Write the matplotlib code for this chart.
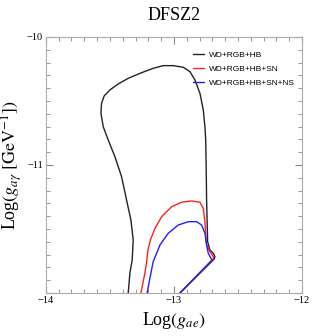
import matplotlib
matplotlib.use("Agg")
import matplotlib.pyplot as plt
from matplotlib.ticker import MultipleLocator, FixedLocator

plt.rcParams['font.family'] = ['Liberation Serif', 'DejaVu Serif']
plt.rcParams['mathtext.fontset'] = 'stix'

# contours, (log g_ae, log g_agamma)
black_x = [-13.357, -13.344, -13.326, -13.318, -13.336, -13.370, -13.409, -13.461,
           -13.513, -13.552, -13.570, -13.565, -13.545, -13.500, -13.435, -13.357,
           -13.252, -13.162, -13.084, -13.005, -12.927, -12.875, -12.836, -12.797,
           -12.771, -12.758, -12.752, -12.748, -12.745, -12.737, -12.719, -12.693,
           -12.680, -12.685, -12.953]
black_y = [-12.0, -11.846, -11.742, -11.586, -11.430, -11.273, -11.091, -10.935,
           -10.805, -10.701, -10.596, -10.518, -10.461, -10.414, -10.367, -10.323,
           -10.279, -10.245, -10.224, -10.224, -10.237, -10.271, -10.336, -10.440,
           -10.570, -10.701, -10.805, -11.039, -11.273, -11.599, -11.664, -11.690,
           -11.716, -11.734, -12.0]

red_x = [-13.258, -13.227, -13.213, -13.203, -13.184, -13.148, -13.096, -13.018,
         -12.940, -12.862, -12.797, -12.771, -12.758, -12.752, -12.745, -12.719,
         -12.693, -12.690, -12.953]
red_y = [-12.0, -11.846, -11.755, -11.664, -11.586, -11.495, -11.404, -11.326,
         -11.291, -11.281, -11.291, -11.338, -11.443, -11.547, -11.625, -11.677,
         -11.716, -11.729, -12.0]

blue_x = [-13.209, -13.188, -13.162, -13.109, -13.045, -12.966, -12.888, -12.823,
          -12.784, -12.758, -12.745, -12.732, -12.711, -12.701, -12.953]
blue_y = [-12.0, -11.885, -11.755, -11.625, -11.534, -11.469, -11.443, -11.443,
          -11.469, -11.534, -11.625, -11.690, -11.729, -11.742, -12.0]

labels = ["WD+RGB+HB", "WD+RGB+HB+SN", "WD+RGB+HB+SN+NS"]

fig = plt.figure(figsize=(3.12, 3.36), dpi=100)
ax = fig.add_axes([0.147, 0.128, 0.821, 0.762])

kw = dict(lw=1.0, solid_joinstyle='round', solid_capstyle='round')
ax.plot(black_x, black_y, color='#222222', label=labels[0], **kw)
ax.plot(red_x, red_y, color='#ff2020', label=labels[1], **kw)
ax.plot(blue_x, blue_y, color='#2020ff', label=labels[2], **kw)

ax.set_xlim(-14, -12)
ax.set_ylim(-12, -10)

ax.xaxis.set_major_locator(FixedLocator([-14, -13, -12]))
ax.set_xticklabels(['\u221214', '\u221213', '\u221212'])
ax.yaxis.set_major_locator(FixedLocator([-12, -11, -10]))
ax.set_yticklabels(['', '\u221211', '\u221210'])
ax.xaxis.set_minor_locator(MultipleLocator(0.1))
ax.yaxis.set_minor_locator(MultipleLocator(0.1))
ax.tick_params(which='both', direction='in', top=True, right=True,
               color='#888888', labelsize=7.5, pad=2)
ax.tick_params(which='major', length=5, width=0.8)
ax.tick_params(which='minor', length=3, width=0.6)
for s in ax.spines.values():
    s.set_color('#aaaaaa')
    s.set_linewidth(0.8)

ax.set_title('DFSZ2', fontsize=13, pad=12)
ax.set_xlabel(r'Log$(g_{ae})$', fontsize=13, labelpad=4)
ax.set_ylabel(r'Log$(g_{a\gamma}\ [\mathrm{GeV}^{-1}])$', fontsize=13, labelpad=2)

leg = ax.legend(loc='upper right', bbox_to_anchor=(1.0, 0.975), frameon=False,
                prop={'family': 'Liberation Sans', 'size': 6},
                handlelength=1.3, handletextpad=0.6, labelspacing=0.75)

fig.savefig('out.png', dpi=100)
